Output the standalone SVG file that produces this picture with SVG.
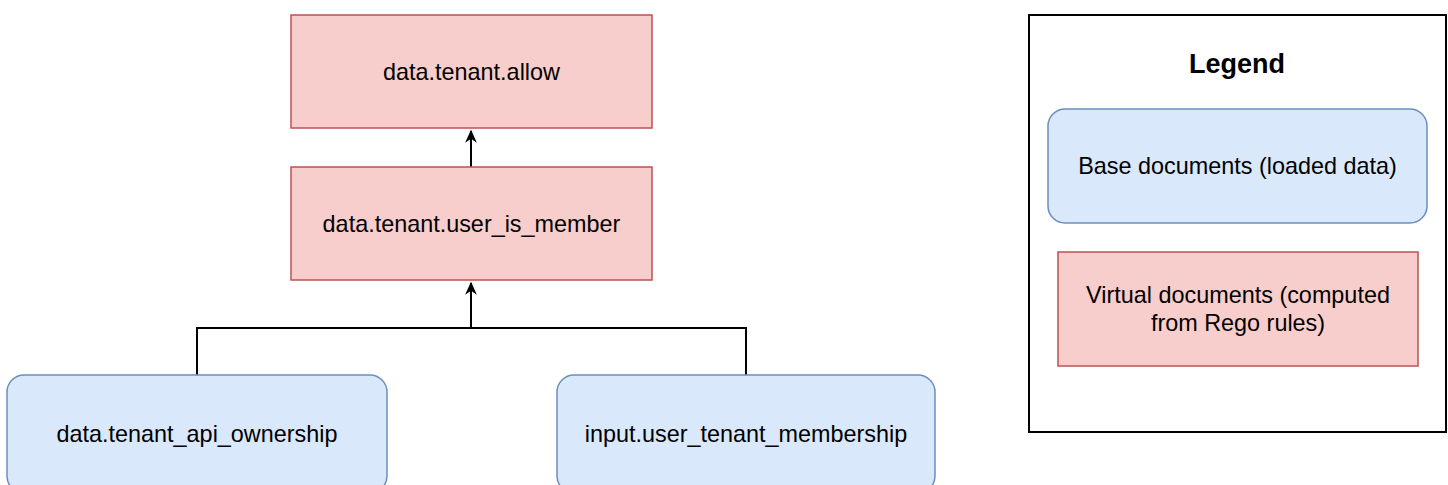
<svg xmlns="http://www.w3.org/2000/svg" width="1448" height="485" viewBox="0 0 1448 485">
  <defs>
    <style>
      .virt { fill: #f8cecc; stroke: #b85450; stroke-width: 1.5; }
      .base { fill: #dae8fc; stroke: #6c8ebf; stroke-width: 1.5; }
      .lbl { font-family: "Liberation Sans", Arial, sans-serif; font-size: 23.4px; fill: #000; text-anchor: middle; }
      .title { font-family: "Liberation Sans", Arial, sans-serif; font-size: 27px; font-weight: bold; fill: #000; text-anchor: middle; }
      .conn { fill: none; stroke: #000; stroke-width: 2; }
    </style>
    <marker id="arrow" viewBox="0 0 10 10" refX="9" refY="5" markerWidth="13" markerHeight="13" markerUnits="userSpaceOnUse" orient="auto">
      <path d="M0,0.5 L10,5 L0,9.5 L3,5 Z" fill="#000"/>
    </marker>
  </defs>
  <rect width="1448" height="485" fill="#fff"/>

  <g id="connectors">
    <path class="conn" d="M471,167 L471,131" marker-end="url(#arrow)"/>
    <path class="conn" d="M197,375 L197,328 L746,328 L746,375"/>
    <path class="conn" d="M471,328 L471,283" marker-end="url(#arrow)"/>
  </g>

  <g id="node-allow">
    <rect class="virt" x="291" y="15" width="361" height="113"/>
    <text class="lbl" x="471.5" y="80">data.tenant.allow</text>
  </g>
  <g id="node-user-is-member">
    <rect class="virt" x="291" y="167" width="361" height="113"/>
    <text class="lbl" x="471.5" y="232">data.tenant.user_is_member</text>
  </g>
  <g id="node-api-ownership">
    <rect class="base" x="7" y="375" width="380" height="118" rx="17" ry="17"/>
    <text class="lbl" x="197" y="442">data.tenant_api_ownership</text>
  </g>
  <g id="node-user-tenant-membership">
    <rect class="base" x="557" y="375" width="378" height="118" rx="17" ry="17"/>
    <text class="lbl" x="746" y="442">input.user_tenant_membership</text>
  </g>

  <g id="legend">
    <rect x="1029" y="15" width="417" height="417" fill="#fff" stroke="#000" stroke-width="2"/>
    <text class="title" x="1237" y="73">Legend</text>
    <g id="legend-base">
      <rect class="base" x="1048" y="109" width="379" height="114" rx="17" ry="17"/>
      <text class="lbl" x="1237.5" y="174">Base documents (loaded data)</text>
    </g>
    <g id="legend-virtual">
      <rect class="virt" x="1058" y="252" width="360" height="114"/>
      <text class="lbl" x="1238" y="303">Virtual documents (computed</text>
      <text class="lbl" x="1238" y="331">from Rego rules)</text>
    </g>
  </g>
</svg>
